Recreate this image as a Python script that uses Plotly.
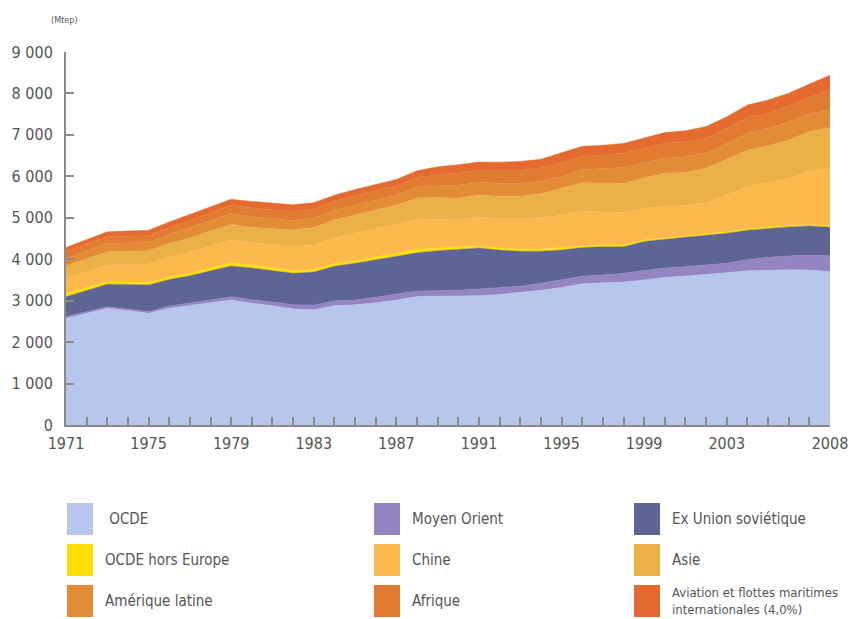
import plotly.graph_objects as go

years = list(range(1971, 2009))

series_names = ["OCDE", "Moyen Orient", "Ex Union soviétique", "OCDE hors Europe",
                "Chine", "Asie", "Amérique latine", "Afrique",
                "Aviation et flottes maritimes<br>internationales (4,0%)"]
series_colors = ["#b7c6ed", "#9584c2", "#5e6494", "#ffe000",
                 "#fdb84e", "#ebb048", "#e28c36", "#e07b31", "#e56a2f"]

ocde = [2575, 2690, 2815, 2760, 2695, 2820, 2890, 2950, 3015, 2940,
        2880, 2800, 2780, 2880, 2900, 2950, 3015, 3100, 3105, 3100,
        3120, 3150, 3195, 3250, 3320, 3410, 3430, 3450, 3500, 3560,
        3595, 3630, 3675, 3720, 3740, 3745, 3740, 3700]
moyen_orient = [40, 45, 40, 40, 45, 50, 55, 70, 80, 80,
                90, 100, 110, 120, 115, 130, 145, 135, 135, 150,
                160, 160, 155, 170, 180, 180, 190, 210, 225, 230,
                225, 230, 225, 270, 305, 335, 360, 390]
ex_urss = [480, 505, 540, 590, 640, 640, 655, 700, 740, 770,
           760, 760, 800, 830, 885, 900, 915, 920, 965, 980,
           990, 910, 840, 770, 720, 690, 680, 640, 700, 690,
           710, 710, 725, 710, 700, 700, 700, 680]
ocde_hors_europe = [75, 70, 65, 60, 60, 60, 65, 70, 80, 70,
                    70, 65, 60, 65, 65, 70, 70, 85, 65, 55,
                    50, 50, 50, 55, 60, 50, 50, 45, 40, 30,
                    30, 30, 35, 30, 35, 30, 35, 40]
chine = [370, 390, 400, 420, 445, 480, 515, 530, 545, 540,
         550, 580, 595, 625, 660, 680, 700, 730, 680, 660,
         690, 720, 755, 755, 780, 830, 790, 780, 770, 760,
         740, 765, 890, 1020, 1070, 1140, 1280, 1400]
asie = [300, 310, 320, 320, 320, 330, 330, 360, 380, 370,
        390, 400, 420, 430, 440, 450, 460, 510, 540, 525,
        540, 530, 525, 580, 645, 685, 700, 710, 725, 805,
        790, 830, 860, 885, 885, 925, 965, 970]
amerique_latine = [185, 190, 200, 205, 200, 220, 250, 250, 265, 255,
                   240, 225, 225, 230, 240, 240, 240, 260, 280, 320,
                   305, 310, 305, 300, 290, 320, 350, 380, 365, 360,
                   385, 365, 385, 400, 425, 440, 425, 435]
afrique = [160, 160, 160, 160, 160, 160, 170, 190, 195, 210,
           215, 225, 215, 225, 235, 235, 220, 235, 270, 290,
           295, 310, 320, 320, 330, 320, 320, 340, 360, 365,
           360, 360, 360, 385, 360, 380, 400, 465]
aviation = [100, 110, 120, 125, 135, 140, 150, 140, 145, 160,
            160, 160, 160, 140, 140, 140, 160, 160, 190, 200,
            195, 200, 215, 210, 240, 240, 240, 240, 240, 255,
            265, 280, 280, 300, 320, 310, 320, 360]

series_values = [ocde, moyen_orient, ex_urss, ocde_hors_europe, chine, asie,
                 amerique_latine, afrique, aviation]
legend_labels = [" " + series_names[0]] + series_names[1:]

y_ticks = list(range(0, 9001, 1000))
x_label_years = [1971, 1975, 1979, 1983, 1987, 1991, 1995, 1999, 2003, 2008]

FONT = "Liberation Sans Narrow, DejaVu Sans Condensed, Liberation Sans, sans-serif"
GREY = "#8a8a8a"
TXT = "#555555"

# plot area in pixels
L, R, T, B = 66, 830, 52, 425
PW, PH = R - L, B - T

fig = go.Figure()
for name, color, vals in zip(series_names, series_colors, series_values):
    fig.add_trace(go.Scatter(
        x=years, y=vals, name=name.replace("<br>", " "), mode="lines",
        stackgroup="one", line=dict(width=0.5, color=color),
        fillcolor=color, showlegend=False, hoverinfo="x+y+name"))

fig.update_layout(
    width=849, height=619,
    margin=dict(l=L, r=849 - R, t=T, b=619 - B, autoexpand=False),
    paper_bgcolor="white", plot_bgcolor="white",
    separators=", ",
    font=dict(family=FONT, color=TXT),
    showlegend=False,
)
fig.update_xaxes(
    range=[1971, 2008], showgrid=False, zeroline=False, automargin=False,
    showline=True, linecolor=GREY, linewidth=2,
    ticks="inside", ticklen=8, tickcolor=GREY, tickwidth=1.5,
    tickvals=years,
    ticktext=[str(y) if y in x_label_years else "" for y in years],
    tickfont=dict(size=16, color=TXT, family=FONT),
    ticklabelstandoff=3,
)
fig.update_yaxes(
    range=[0, 9000], showgrid=False, zeroline=False, automargin=False,
    showline=True, linecolor=GREY, linewidth=2,
    ticks="inside", ticklen=8, tickcolor=GREY, tickwidth=1.5,
    tickvals=y_ticks, tickformat=",d",
    tickfont=dict(size=16, color=TXT, family=FONT),
    ticklabelstandoff=8,
)

fig.add_annotation(text="(Mtep)", xref="paper", yref="paper",
                   x=(64 - L) / PW, y=(B - 20) / PH, xanchor="center", yanchor="middle",
                   showarrow=False, font=dict(size=9, color=TXT, family=FONT))

# Legend drawn as 3 columns of tall swatches
col_x = [67, 374, 634]
row_y = [519, 560, 601]
for i, (name, color) in enumerate(zip(legend_labels, series_colors)):
    r, c = divmod(i, 3)
    x0 = col_x[c]
    yc = row_y[r]
    fig.add_shape(type="rect", xref="paper", yref="paper",
                  x0=(x0 - L) / PW, x1=(x0 + 26 - L) / PW,
                  y0=(B - (yc + 16)) / PH, y1=(B - (yc - 16)) / PH,
                  fillcolor=color, line=dict(width=0))
    fig.add_annotation(text=name, xref="paper", yref="paper",
                       x=(x0 + 36 - L) / PW, y=(B - yc) / PH,
                       xanchor="left", yanchor="middle", align="left",
                       showarrow=False,
                       font=dict(size=15 if i < 8 else 13, color=TXT, family=FONT))

fig.write_html("out.html", config={"displayModeBar": False},
               post_script="document.body.style.margin='0';document.body.style.overflow='hidden';")
